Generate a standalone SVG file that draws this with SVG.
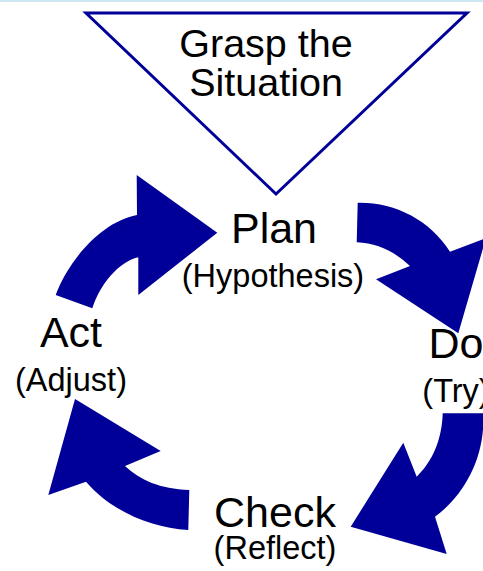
<svg xmlns="http://www.w3.org/2000/svg" width="483" height="571" viewBox="0 0 483 571">
  <style>
    .lbl { font-family: "Liberation Sans", Arial, sans-serif; fill: #000; text-anchor: middle; }
    .main { font-size: 43px; }
    .sub { font-size: 32.5px; }
    .big { font-size: 39.5px; }
    .arrow { fill: #000099; stroke: none; }
    .tri { fill: #fff; stroke: #000099; stroke-width: 3; stroke-linejoin: miter; }
  </style>
  <rect x="0" y="0" width="483" height="571" fill="#fff"/>
  <rect x="0" y="0" width="483" height="2" fill="#cde8f5"/>

  <!-- Starting point: inverted triangle -->
  <g id="grasp">
    <polygon class="tri" points="86,13 467,13 276,194"/>
    <text class="lbl big" x="266" y="57">Grasp the</text>
    <text class="lbl big" x="266" y="96">Situation</text>
  </g>

  <!-- Cycle stages -->
  <g id="plan">
    <text class="lbl main" x="274" y="243">Plan</text>
    <text class="lbl sub" x="273" y="287">(Hypothesis)</text>
  </g>
  <g id="do">
    <text class="lbl main" x="456" y="358">Do</text>
    <text class="lbl sub" x="456" y="402">(Try)</text>
  </g>
  <g id="check">
    <text class="lbl main" x="275" y="527">Check</text>
    <text class="lbl sub" x="275" y="559">(Reflect)</text>
  </g>
  <g id="act">
    <text class="lbl main" x="71" y="347">Act</text>
    <text class="lbl sub" x="71" y="391">(Adjust)</text>
  </g>

  <!-- Curved block arrows between stages -->
  <g id="connectors">
    <!-- Act to Plan -->
    <path class="arrow" d="M55.7,295 C68,262 100,222 137,215 L136.7,175 L217.3,232.7 L138.3,295 L138.3,257.3 C118,262 100,285 92.3,308.3 Z"/>
    <!-- Plan to Do -->
    <path class="arrow" d="M357.7,202.7 C395,202 430,220 450,251.7 L486,238 L458.3,333.3 L376,279.3 L410,266 C395,252 378,243 356.7,242.3 Z"/>
    <!-- Do to Check -->
    <path class="arrow" d="M483,413.3 C486,455 465,495 435,516.7 L446.7,554 L350.7,526.7 L403.3,442.7 L416.7,476.7 C432,462 442,440 442.7,413.3 Z"/>
    <!-- Check to Act -->
    <path class="arrow" d="M188.3,530 C150,528 110,510 86,481.7 L48.3,495 L75,399 L160.7,451 L125,466 C140,480 160,489 189.3,490 Z"/>
  </g>
</svg>
